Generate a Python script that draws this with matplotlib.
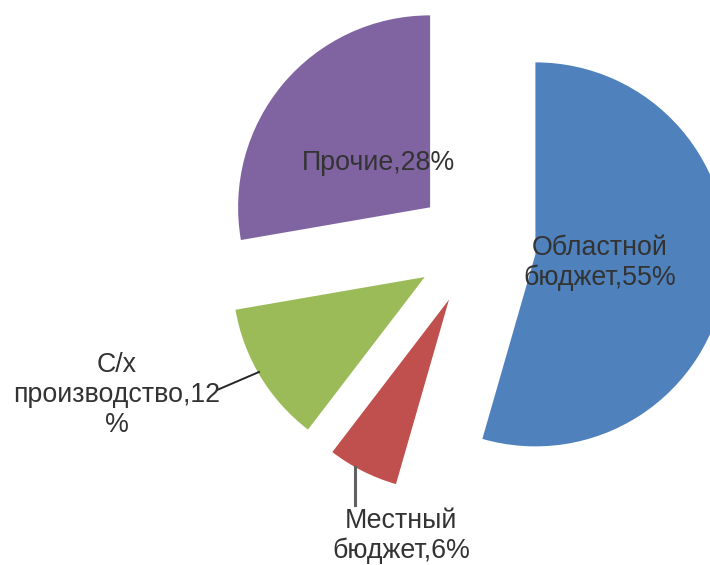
import matplotlib.pyplot as plt

# Data
labels = ['Областной\nбюджет,55%', 'Местный\nбюджет,6%',
          'С/х\nпроизводство,12\n%', 'Прочие,28%']
values = [55, 6, 12, 28]
colors = ['#4F81BD', '#C0504D', '#9BBB59', '#8064A2']

# Pixel layout of the reference (image coords, y down)
R_PX = 192.0
CX, CY = 476.0, 246.0


def px(x):
    return (x - CX) / R_PX


def py(y):
    return (CY - y) / R_PX


label_pos = [(600, 263), (401, 536), (117, 395), (379, 163)]

fig = plt.figure(figsize=(7.1, 5.65), dpi=100)
ax = fig.add_axes([0, 0, 1, 1])

ax.pie(values, colors=colors, startangle=90, counterclock=False,
       explode=[0.3125] * len(values), radius=1,
       wedgeprops=dict(linewidth=0))

for text, (x, y) in zip(labels, label_pos):
    ax.text(px(x), py(y), text, ha='center', va='center', ma='center',
            fontsize=19.3, family='Liberation Sans', color='#333333',
            linespacing=1.2)

# Leader lines
ax.plot([px(217), px(259)], [py(390), py(372)], color='#262626', lw=1.4)
ax.plot([px(355), px(355)], [py(467), py(505)], color='#606060', lw=2.2)

ax.set_xlim(px(0), px(710))
ax.set_ylim(py(565), py(0))
ax.set_aspect('equal')
ax.axis('off')

fig.savefig('out.png', dpi=100, facecolor='white')
